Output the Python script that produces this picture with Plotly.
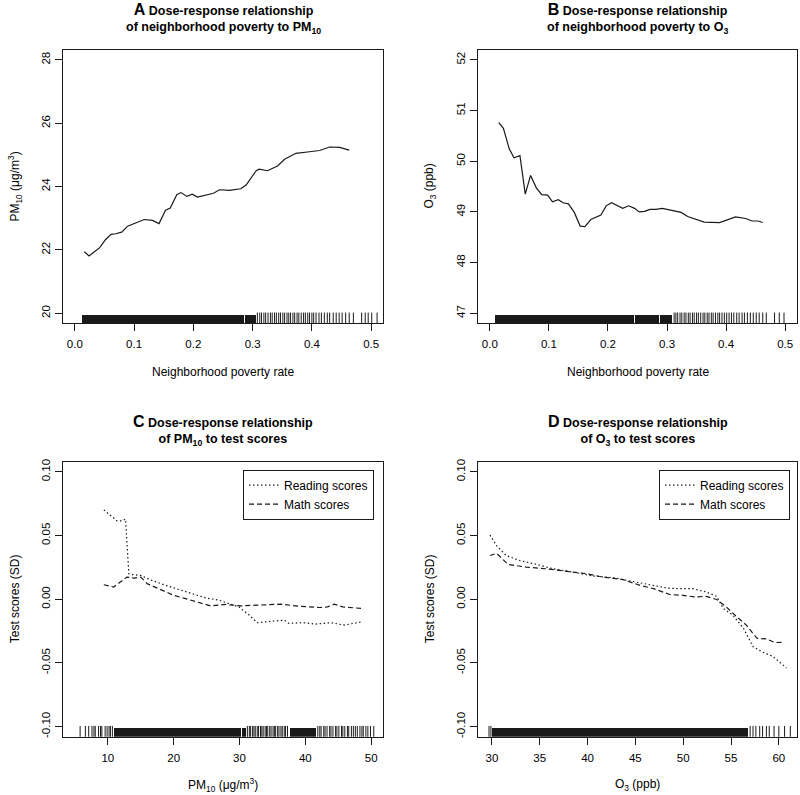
import plotly.graph_objects as go

# ---- panel A: neighborhood poverty -> PM10 ----
pov_a = [0.016, 0.024, 0.033, 0.042, 0.052, 0.061, 0.069, 0.079, 0.089, 0.100,
         0.117, 0.131, 0.142, 0.153, 0.161, 0.172, 0.179, 0.189, 0.198, 0.207,
         0.221, 0.234, 0.244, 0.261, 0.280, 0.289, 0.306, 0.311, 0.325, 0.342,
         0.354, 0.373, 0.396, 0.413, 0.430, 0.447, 0.463]
pm10_a = [21.94, 21.81, 21.94, 22.07, 22.33, 22.49, 22.51, 22.56, 22.75, 22.83,
          22.96, 22.93, 22.83, 23.25, 23.32, 23.74, 23.81, 23.69, 23.76, 23.67,
          23.72, 23.79, 23.90, 23.88, 23.93, 24.05, 24.50, 24.55, 24.50, 24.65,
          24.86, 25.05, 25.10, 25.14, 25.25, 25.24, 25.15]

# ---- panel B: neighborhood poverty -> O3 ----
pov_b = [0.015, 0.023, 0.033, 0.041, 0.051, 0.060, 0.069, 0.079, 0.088, 0.098,
         0.106, 0.116, 0.124, 0.133, 0.143, 0.153, 0.161, 0.171, 0.188, 0.197,
         0.206, 0.216, 0.225, 0.235, 0.245, 0.253, 0.262, 0.271, 0.281, 0.292,
         0.301, 0.312, 0.324, 0.335, 0.346, 0.363, 0.389, 0.400, 0.416, 0.433,
         0.444, 0.454, 0.462]
o3_b = [50.76, 50.65, 50.24, 50.07, 50.11, 49.35, 49.72, 49.47, 49.34, 49.33,
        49.20, 49.24, 49.18, 49.16, 48.99, 48.72, 48.71, 48.85, 48.94, 49.12,
        49.18, 49.12, 49.07, 49.12, 49.07, 49.00, 49.01, 49.05, 49.05, 49.07,
        49.05, 49.02, 48.99, 48.91, 48.87, 48.80, 48.79, 48.84, 48.90, 48.87,
        48.82, 48.82, 48.79]

# ---- panel C: PM10 -> test scores ----
pm10_read = [9.4, 10.4, 11.4, 12.2, 12.7, 13.2, 13.45, 15.0, 16.7, 18.8, 20.8,
             22.8, 24.9, 26.9, 28.4, 29.9, 31.5, 32.7, 34.0, 35.5, 36.8, 37.5,
             39.6, 41.6, 43.9, 45.9, 47.2, 48.6]
read_c = [0.0701, 0.0655, 0.0616, 0.0616, 0.0629, 0.0200, 0.0195, 0.0187,
          0.0148, 0.0109, 0.0076, 0.0044, 0.0010, -0.0008, -0.0034, -0.0060,
          -0.0125, -0.0184, -0.0177, -0.0171, -0.0164, -0.0190, -0.0184,
          -0.0195, -0.0184, -0.0203, -0.0190, -0.0177]
pm10_math = [9.4, 10.9, 11.9, 12.9, 14.0, 15.0, 16.0, 17.5, 18.8, 20.0, 21.8,
             23.6, 25.6, 27.9, 30.2, 32.5, 36.3, 39.1, 42.1, 43.4, 44.4, 45.7,
             47.2, 48.7]
math_c = [0.0114, 0.0096, 0.0135, 0.0174, 0.0166, 0.0174, 0.0122, 0.0088,
          0.0062, 0.0031, 0.0005, -0.0021, -0.0052, -0.0041, -0.0052, -0.0047,
          -0.0039, -0.0055, -0.0065, -0.0060, -0.0039, -0.0060, -0.0068, -0.0073]

# ---- panel D: O3 -> test scores ----
o3_read = [29.8, 30.5, 31.5, 32.9, 34.7, 36.4, 38.5, 40.6, 42.7, 44.1, 45.5,
           46.9, 48.3, 49.6, 51.0, 52.4, 53.5, 54.2, 55.2, 56.3, 57.3, 58.3,
           59.4, 60.8]
read_d = [0.0504, 0.0420, 0.0343, 0.0304, 0.0273, 0.0239, 0.0213, 0.0182,
          0.0169, 0.0148, 0.0127, 0.0104, 0.0088, 0.0083, 0.0083, 0.0057,
          0.0023, -0.0073, -0.0125, -0.0228, -0.0372, -0.0415, -0.0450, -0.0540]
o3_math = [29.8, 30.5, 31.7, 33.6, 35.7, 37.8, 39.9, 41.6, 43.7, 45.5, 46.9,
           48.6, 50.0, 51.2, 52.4, 53.5, 54.5, 55.6, 56.6, 57.7, 58.7, 59.6, 60.6]
math_d = [0.0343, 0.0360, 0.0273, 0.0252, 0.0239, 0.0218, 0.0200, 0.0174,
          0.0154, 0.0109, 0.0083, 0.0037, 0.0031, 0.0018, 0.0023, -0.0002,
          -0.0060, -0.0138, -0.0203, -0.0306, -0.0312, -0.0340, -0.0338]

# ---- rugs: solid-looking stretches (lo, hi) and single ticks ----
rug_a_lo = [0.012, 0.2218, 0.2454, 0.2668, 0.2865]
rug_a_hi = [0.2212, 0.2448, 0.2662, 0.2859, 0.3060]
rug_a_ticks = [0.308, 0.312, 0.315, 0.319, 0.322, 0.326, 0.330, 0.333, 0.337,
               0.340, 0.344, 0.347, 0.351, 0.354, 0.358, 0.361, 0.364, 0.368,
               0.371, 0.375, 0.378, 0.382, 0.386, 0.389, 0.393, 0.396, 0.400,
               0.403, 0.407, 0.412, 0.416, 0.421, 0.426, 0.430, 0.436, 0.441,
               0.446, 0.451, 0.457, 0.463, 0.470, 0.484, 0.490, 0.495, 0.501,
               0.510]
rug_b_lo = [0.009, 0.2228, 0.2452, 0.2648, 0.2878]
rug_b_hi = [0.2222, 0.2446, 0.2642, 0.2872, 0.3090]
rug_b_ticks = [0.312, 0.315, 0.318, 0.322, 0.325, 0.329, 0.332, 0.336, 0.339,
               0.343, 0.346, 0.350, 0.353, 0.357, 0.361, 0.364, 0.368, 0.371,
               0.375, 0.378, 0.382, 0.386, 0.389, 0.393, 0.397, 0.401, 0.405,
               0.409, 0.413, 0.418, 0.422, 0.427, 0.431, 0.436, 0.441, 0.446,
               0.451, 0.456, 0.462, 0.468, 0.482, 0.490, 0.498]
rug_c_lo = [10.9, 30.4, 37.6]
rug_c_hi = [30.2, 31.0, 41.6]
rug_c_ticks = [5.8, 6.6, 7.1, 7.6, 7.9, 8.1, 8.6, 8.9, 9.1, 9.6, 9.9, 10.2,
               10.4, 10.7, 31.2, 31.5, 31.7, 32.0, 32.2, 32.4, 32.7, 32.9, 33.2,
               33.4, 33.6, 33.9, 34.1, 34.3, 34.6, 34.8, 35.1, 35.3, 35.5, 35.8,
               36.0, 36.3, 36.5, 36.8, 37.0, 37.3, 41.9, 42.2, 42.4, 42.8, 43.0,
               43.3, 43.7, 43.9, 44.2, 44.6, 44.8, 45.1, 45.5, 45.7, 46.0, 46.4,
               46.6, 47.0, 47.3, 47.6, 47.9, 48.3, 48.6, 48.8, 49.2, 49.5, 49.9,
               50.4]
rug_d_lo = [30.0]
rug_d_hi = [56.8]
rug_d_ticks = [29.7, 29.9, 57.0, 57.3, 57.6, 58.0, 58.3, 58.7, 59.0, 59.5,
               60.0, 60.6, 61.2]

ink = "#1a1a1a"
font = "Liberation Sans, Arial, sans-serif"

fig = go.Figure()

panels = [
    # (xaxis, yaxis, rug axis, rug lo, rug hi, rug ticks)
    ("x", "y", "y5", rug_a_lo, rug_a_hi, rug_a_ticks),
    ("x2", "y2", "y6", rug_b_lo, rug_b_hi, rug_b_ticks),
    ("x3", "y3", "y7", rug_c_lo, rug_c_hi, rug_c_ticks),
    ("x4", "y4", "y8", rug_d_lo, rug_d_hi, rug_d_ticks),
]
rug_h = 0.033
for xa, ya, ra, lo, hi, ticks in panels:
    fig.add_trace(go.Bar(x=[(a + b) / 2 for a, b in zip(lo, hi)], y=[rug_h] * len(lo),
                         width=[b - a for a, b in zip(lo, hi)], base=0,
                         marker=dict(color=ink, line=dict(width=0)),
                         xaxis=xa, yaxis=ra, showlegend=False, hoverinfo="skip"))
    fig.add_trace(go.Scatter(x=ticks, y=[rug_h / 2] * len(ticks), mode="markers",
                             marker=dict(symbol="line-ns-open", size=9, color=ink,
                                         line=dict(color=ink, width=1)),
                             xaxis=xa, yaxis=ra, showlegend=False, hoverinfo="skip"))

fig.add_trace(go.Scatter(x=pov_a, y=pm10_a, mode="lines", line=dict(color=ink, width=1.2),
                         xaxis="x", yaxis="y", showlegend=False))
fig.add_trace(go.Scatter(x=pov_b, y=o3_b, mode="lines", line=dict(color=ink, width=1.2),
                         xaxis="x2", yaxis="y2", showlegend=False))

dot = "1.5px,2.5px"
dash = "5px,3px"
fig.add_trace(go.Scatter(x=pm10_read, y=read_c, mode="lines", name="Reading scores",
                         line=dict(color=ink, width=1.2, dash=dot),
                         xaxis="x3", yaxis="y3", legend="legend"))
fig.add_trace(go.Scatter(x=pm10_math, y=math_c, mode="lines", name="Math scores",
                         line=dict(color=ink, width=1.2, dash=dash),
                         xaxis="x3", yaxis="y3", legend="legend"))
fig.add_trace(go.Scatter(x=o3_read, y=read_d, mode="lines", name="Reading scores",
                         line=dict(color=ink, width=1.2, dash=dot),
                         xaxis="x4", yaxis="y4", legend="legend2"))
fig.add_trace(go.Scatter(x=o3_math, y=math_d, mode="lines", name="Math scores",
                         line=dict(color=ink, width=1.2, dash=dash),
                         xaxis="x4", yaxis="y4", legend="legend2"))

W, H = 800, 795
col_px = [(63, 383), (478, 797)]
row_px = [(47, 322), (461, 737.5)]


def xdom(c):
    return [col_px[c][0] / W, col_px[c][1] / W]


def ydom(r):
    return [1 - row_px[r][1] / H, 1 - row_px[r][0] / H]


axis_style = dict(showline=True, linecolor=ink, linewidth=1, mirror=True,
                  ticks="outside", ticklen=7, tickwidth=1, tickcolor=ink,
                  showgrid=False, zeroline=False,
                  tickfont=dict(family=font, size=11.5, color="black"))

pov_ticks = [0, 0.1, 0.2, 0.3, 0.4, 0.5]
pov_labels = ["0.0", "0.1", "0.2", "0.3", "0.4", "0.5"]
score_ticks = [-0.1, -0.05, 0, 0.05, 0.1]
score_labels = ["-0.10", "-0.05", "0.00", "0.05", "0.10"]

fig.update_layout(
    xaxis=dict(domain=xdom(0), anchor="y", range=[-0.02, 0.52],
               tickvals=pov_ticks, ticktext=pov_labels, ticklabelstandoff=3, **axis_style),
    yaxis=dict(domain=ydom(0), anchor="x", range=[19.68, 28.32],
               tickvals=[20, 22, 24, 26, 28], tickangle=-90, **axis_style),
    xaxis2=dict(domain=xdom(1), anchor="y2", range=[-0.02, 0.52],
                tickvals=pov_ticks, ticktext=pov_labels, ticklabelstandoff=3, **axis_style),
    yaxis2=dict(domain=ydom(0), anchor="x2", range=[46.8, 52.2],
                tickvals=[47, 48, 49, 50, 51, 52], tickangle=-90, **axis_style),
    xaxis3=dict(domain=xdom(0), anchor="y3", range=[3.2, 51.8],
                tickvals=[10, 20, 30, 40, 50], ticklabelstandoff=3, **axis_style),
    yaxis3=dict(domain=ydom(1), anchor="x3", range=[-0.108, 0.108],
                tickvals=score_ticks, ticktext=score_labels, tickangle=-90, **axis_style),
    xaxis4=dict(domain=xdom(1), anchor="y4", range=[28.55, 61.9],
                tickvals=[30, 35, 40, 45, 50, 55, 60], ticklabelstandoff=3, **axis_style),
    yaxis4=dict(domain=ydom(1), anchor="x4", range=[-0.108, 0.108],
                tickvals=score_ticks, ticktext=score_labels, tickangle=-90, **axis_style),
    yaxis5=dict(overlaying="y", anchor="x", range=[0, 1], visible=False),
    yaxis6=dict(overlaying="y2", anchor="x2", range=[0, 1], visible=False),
    yaxis7=dict(overlaying="y3", anchor="x3", range=[0, 1], visible=False),
    yaxis8=dict(overlaying="y4", anchor="x4", range=[0, 1], visible=False),
    legend=dict(x=374 / W, y=1 - 469 / H, xanchor="right", yanchor="top",
                bordercolor=ink, borderwidth=1, bgcolor="white",
                font=dict(family=font, size=12, color="black")),
    legend2=dict(x=790 / W, y=1 - 469 / H, xanchor="right", yanchor="top",
                 bordercolor=ink, borderwidth=1, bgcolor="white",
                 font=dict(family=font, size=12, color="black")),
    width=W, height=H, margin=dict(l=0, r=0, t=0, b=0),
    plot_bgcolor="white", paper_bgcolor="white",
    font=dict(family=font, color="black"), bargap=0,
)

titles = [
    ("A", "of neighborhood poverty to PM<sub>10</sub>"),
    ("B", "of neighborhood poverty to O<sub>3</sub>"),
    ("C", "of PM<sub>10</sub> to test scores"),
    ("D", "of O<sub>3</sub> to test scores"),
]
xtitles = ["Neighborhood poverty rate", "Neighborhood poverty rate",
           "PM<sub>10</sub> (μg/m<sup>3</sup>)", "O<sub>3</sub> (ppb)"]
ytitles = ["PM<sub>10</sub> (μg/m<sup>3</sup>)", "O<sub>3</sub> (ppb)",
           "Test scores (SD)", "Test scores (SD)"]

for i, (letter, line2) in enumerate(titles):
    c, r = i % 2, i // 2
    cx = (col_px[c][0] + col_px[c][1]) / 2 / W
    top, bot = row_px[r]
    fig.add_annotation(
        x=cx, y=1 - (top - 31.5) / H, xref="paper", yref="paper",
        xanchor="center", yanchor="middle", showarrow=False, align="center",
        text=f"<b><span style='font-size:16px'>{letter}</span> Dose-response relationship</b>"
             f"<br><b>{line2}</b>",
        font=dict(family=font, size=12.5, color="black"))
    fig.add_annotation(
        x=cx, y=1 - (bot + 48.5) / H, xref="paper", yref="paper",
        xanchor="center", yanchor="middle", showarrow=False,
        text=xtitles[i], font=dict(family=font, size=12, color="black"))
    fig.add_annotation(
        x=(col_px[c][0] - 48) / W, y=1 - (top + bot) / 2 / H, xref="paper", yref="paper",
        xanchor="center", yanchor="middle", showarrow=False, textangle=-90,
        text=ytitles[i], font=dict(family=font, size=12, color="black"))

# the page's default body margin would push the 800x795 figure off the window
fig.write_html("out.html", config={"displayModeBar": False},
               post_script="document.body.style.margin = '0';")
